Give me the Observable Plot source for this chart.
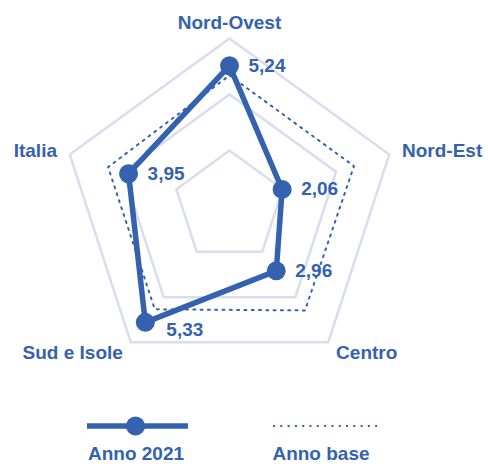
<!DOCTYPE html>
<html><head><meta charset="utf-8">
<script src="https://cdn.jsdelivr.net/npm/d3@7"></script>
<script src="https://cdn.jsdelivr.net/npm/@observablehq/plot@0.6"></script>
<style>
body{margin:0;background:#fff;font-family:"Liberation Sans",Arial,sans-serif;}
#wrap{position:relative;width:488px;height:464px;overflow:hidden;}
#chart{position:absolute;left:0;top:0;}
#legend{position:absolute;left:0;top:400px;}
</style></head><body>
<div id="wrap"><div id="chart"></div><svg id="legend" width="488" height="64"></svg></div>
<script>
const regions = ["Nord-Ovest", "Nord-Est", "Centro", "Sud e Isole", "Italia"];
const values2021 = [5.24, 2.06, 2.96, 5.33, 3.95];
const valueLabels = ["5,24", "2,06", "2,96", "5,33", "3,95"];
const valuesBase = [4.88, 4.87, 4.78, 4.73, 4.75];
const rings = [2.08, 4.17, 6.25];
const seriesNames = ["Anno 2021", "Anno base"];

const BLUE = "#3462ae";
const GRID = "#d8ddf0";
const K = 26.87;          // px per unit
const CX = 229, CY = 206; // centre in px
const W = 488, H = 400;
const labelR = 6.75;

const ang = i => i * 2 * Math.PI / regions.length;
const pt = (i, r) => ({x: r * Math.sin(ang(i)), y: r * Math.cos(ang(i))});

const gridData = rings.flatMap(r => regions.map((name, i) => ({ring: r, ...pt(i, r)})));
const d2021 = regions.map((name, i) => ({name, label: valueLabels[i], i, ...pt(i, values2021[i])}));
const dBase = regions.map((name, i) => ({name, ...pt(i, valuesBase[i])}));
const axisLabels = regions.map((name, i) => ({name, s: Math.sin(ang(i)), ...pt(i, labelR)}));

const txt = {fontSize: 19, fontWeight: "bold", fill: BLUE};

const chart = Plot.plot({
  width: W, height: H, margin: 0,
  x: {domain: [-CX / K, (W - CX) / K], axis: null},
  y: {domain: [-(H - CY) / K, CY / K], axis: null},
  style: {fontFamily: "'Liberation Sans', Arial, sans-serif", background: "white"},
  marks: [
    Plot.line(gridData, {x: "x", y: "y", z: "ring", curve: "linear-closed", stroke: GRID, strokeWidth: 2.5}),
    Plot.line(dBase, {x: "x", y: "y", curve: "linear-closed", stroke: BLUE, strokeWidth: 2, strokeDasharray: "2,5.3"}),
    Plot.line(d2021, {x: "x", y: "y", curve: "linear-closed", stroke: BLUE, strokeWidth: 5.5, strokeLinejoin: "round"}),
    Plot.dot(d2021, {x: "x", y: "y", r: 9.5, fill: BLUE}),
    Plot.text(d2021.filter(d => d.i !== 3), {x: "x", y: "y", text: "label", dx: 19, textAnchor: "start", ...txt}),
    Plot.text(d2021.filter(d => d.i === 3), {x: "x", y: "y", text: "label", dx: 21, dy: 8, textAnchor: "start", ...txt}),
    Plot.text(axisLabels.filter(d => Math.abs(d.s) < 0.01), {x: "x", y: "y", text: "name", dy: -2, textAnchor: "middle", ...txt}),
    Plot.text(axisLabels.filter(d => d.s >= 0.01), {x: "x", y: "y", text: "name", textAnchor: "start", ...txt}),
    Plot.text(axisLabels.filter(d => d.s <= -0.01), {x: "x", y: "y", text: "name", textAnchor: "end", ...txt})
  ]
});
document.getElementById("chart").appendChild(chart);

// legend
const lg = d3.select("#legend");
lg.append("line").attr("x1", 87).attr("x2", 188).attr("y1", 26).attr("y2", 26)
  .attr("stroke", BLUE).attr("stroke-width", 5.5);
lg.append("circle").attr("cx", 135.5).attr("cy", 26).attr("r", 9.5).attr("fill", BLUE);
lg.append("line").attr("x1", 273).attr("x2", 377).attr("y1", 26).attr("y2", 26)
  .attr("stroke", BLUE).attr("stroke-width", 2).attr("stroke-dasharray", "2,5.3");
lg.selectAll("text").data(seriesNames).join("text")
  .attr("x", (d, i) => i === 0 ? 136 : 321).attr("y", 60)
  .attr("text-anchor", "middle").attr("font-size", 19).attr("font-weight", "bold")
  .attr("fill", BLUE).attr("font-family", "'Liberation Sans', Arial, sans-serif")
  .text(d => d);
</script>
</body></html>
